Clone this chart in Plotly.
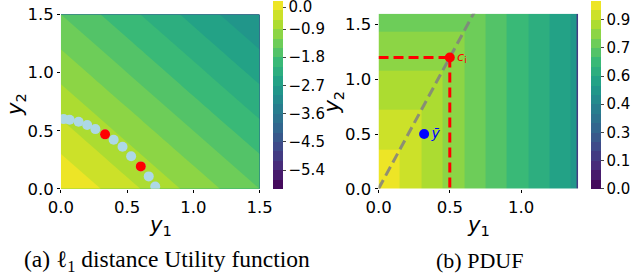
import plotly.graph_objects as go
from plotly.colors import sample_colorscale

# ---------------- data ----------------
# (a) l1 distance utility: grid samples of the utility surface
l1_y1 = [0.0, 0.5, 1.0, 1.5]
l1_y2 = [0.0, 0.5, 1.0, 1.5]
l1_utility = [
    [0.0, -0.5, -1.0, -1.5],
    [-0.5, -1.0, -1.5, -2.0],
    [-1.0, -1.5, -2.0, -2.5],
    [-1.5, -2.0, -2.5, -3.0],
]
front_y1 = [0.02, 0.065, 0.133, 0.198, 0.26, 0.333, 0.398, 0.465, 0.53, 0.603, 0.663, 0.712]
front_y2 = [0.60, 0.595, 0.578, 0.549, 0.514, 0.469, 0.423, 0.362, 0.281, 0.193, 0.107, 0.02]
chosen_y1 = [0.333, 0.603]
chosen_y2 = [0.469, 0.193]
left_cbar_vals = [-0.2, -0.9, -1.8, -2.7, -3.6, -4.5, -5.4]
left_cbar_text = ["0.0", "\u22120.9", "\u22121.8", "\u22122.7", "\u22123.6", "\u22124.5", "\u22125.4"]

# (b) PDUF: band edges and band values
pduf_y1_edges = [0.0, 0.15, 0.30, 0.45, 0.60, 0.75, 0.90, 1.05, 1.20, 1.35, 1.388, 1.40]
pduf_y2_edges = [0.0, 0.36, 0.72, 1.08, 1.44, 1.60]
pduf_band_values = [0.975, 0.925, 0.875, 0.825, 0.775, 0.725, 0.675, 0.625, 0.575, 0.525, 0.175]
ci_y1 = [0.5]
ci_y2 = [1.2]
ybar_y1 = [0.32]
ybar_y2 = [0.5]
diag_y1 = [0.0, 0.70]
diag_y2 = [0.0, 1.68]
right_cbar_vals = [0.0, 0.15, 0.30, 0.45, 0.60, 0.75, 0.90]
right_cbar_text = ["0.0", "0.1", "0.3", "0.4", "0.6", "0.7", "0.9"]

axis_ticks = [0.0, 0.5, 1.0, 1.5]
axis_ticktext = ["0.0", "0.5", "1.0", "1.5"]

# ---------------- figure ----------------
W, H = 640, 278
n_steps = 20
cols = sample_colorscale("Viridis", [(k + 0.5) / n_steps for k in range(n_steps)])
stepped = []
for k, c in enumerate(cols):
    stepped.append([k / n_steps, c])
    stepped.append([(k + 1) / n_steps, c])

pduf_z = [[pduf_band_values[max(i, j)] for i in range(len(pduf_y1_edges) - 1)]
          for j in range(len(pduf_y2_edges) - 1)]

FONT = "DejaVu Sans"


def cbar(xpx, vals, text):
    return dict(x=xpx / W, xanchor="left", y=85 / H, yanchor="bottom",
                len=188, lenmode="pixels", thickness=10, thicknessmode="pixels",
                xpad=0, ypad=0, outlinewidth=0, ticks="outside", ticklen=3,
                tickvals=vals, ticktext=text, ticklabeloverflow="allow",
                tickfont=dict(family=FONT, size=15, color="black"))


fig = go.Figure()

# heatmap underneath the contour: carries the stepped colorbar for panel (a)
fig.add_trace(go.Heatmap(
    x=l1_y1, y=l1_y2, z=l1_utility, colorscale=stepped, zmin=-6, zmax=0,
    colorbar=cbar(271, left_cbar_vals, left_cbar_text),
    xaxis="x", yaxis="y", hoverinfo="skip",
))
fig.add_trace(go.Contour(
    x=l1_y1, y=l1_y2, z=l1_utility,
    colorscale=stepped, zmin=-6, zmax=0, zauto=False, showscale=False,
    contours=dict(start=-6, end=0, size=0.3, coloring="fill", showlines=False),
    line=dict(width=0),
    xaxis="x", yaxis="y", hoverinfo="skip",
))
fig.add_trace(go.Scatter(x=front_y1, y=front_y2, mode="markers",
                         marker=dict(color="#add8e6", size=10),
                         xaxis="x", yaxis="y", showlegend=False, cliponaxis=True))
fig.add_trace(go.Scatter(x=chosen_y1, y=chosen_y2, mode="markers",
                         marker=dict(color="#ff0000", size=10),
                         xaxis="x", yaxis="y", showlegend=False))

fig.add_trace(go.Heatmap(
    x=pduf_y1_edges, y=pduf_y2_edges, z=pduf_z,
    colorscale=stepped, zmin=0, zmax=1,
    colorbar=cbar(602, right_cbar_vals, right_cbar_text),
    xaxis="x2", yaxis="y2", hoverinfo="skip",
))
fig.add_trace(go.Scatter(x=diag_y1, y=diag_y2, mode="lines",
                         line=dict(color="rgba(128,128,128,0.85)", width=3, dash="10px,5px"),
                         xaxis="x2", yaxis="y2", showlegend=False))
fig.add_trace(go.Scatter(x=[0.0, ci_y1[0]], y=[ci_y2[0], ci_y2[0]], mode="lines",
                         line=dict(color="#ff0000", width=3, dash="10px,5px"),
                         xaxis="x2", yaxis="y2", showlegend=False))
fig.add_trace(go.Scatter(x=[ci_y1[0], ci_y1[0]], y=[ci_y2[0], 0.0], mode="lines",
                         line=dict(color="#ff0000", width=3, dash="10px,5px"),
                         xaxis="x2", yaxis="y2", showlegend=False))
fig.add_trace(go.Scatter(x=ci_y1, y=ci_y2, mode="markers+text",
                         marker=dict(color="#ff0000", size=10),
                         text=["<i>c</i><sub>i</sub>"], textposition="middle right",
                         textfont=dict(family=FONT, size=13, color="#ff0000"),
                         xaxis="x2", yaxis="y2", showlegend=False, cliponaxis=False))
fig.add_trace(go.Scatter(x=ybar_y1, y=ybar_y2, mode="markers+text",
                         marker=dict(color="#0000ff", size=10),
                         text=["<i>\u0233</i>"], textposition="middle right",
                         textfont=dict(family=FONT, size=14, color="#0000ff"),
                         xaxis="x2", yaxis="y2", showlegend=False, cliponaxis=False))

axis_common = dict(showgrid=False, zeroline=False, showline=False, ticks="outside",
                   ticklen=3, tickcolor="black",
                   tickfont=dict(family=FONT, size=16.5, color="black"))

fig.update_layout(
    width=W, height=H, autosize=False,
    margin=dict(l=0, r=0, t=0, b=0, pad=0),
    paper_bgcolor="white", plot_bgcolor="white",
    showlegend=False,
    xaxis=dict(domain=[50 / W, 257 / W], range=[0, 1.5], anchor="y",
               tickvals=axis_ticks, ticktext=axis_ticktext, **axis_common),
    yaxis=dict(domain=[85 / H, 272 / H], range=[0, 1.5], anchor="x",
               tickvals=axis_ticks, ticktext=axis_ticktext, **axis_common),
    xaxis2=dict(domain=[381 / W, 589 / W], range=[0, 1.40], anchor="y2",
                tickvals=axis_ticks[:3], ticktext=axis_ticktext[:3], **axis_common),
    yaxis2=dict(domain=[85 / H, 273 / H], range=[0, 1.60], anchor="x2",
                tickvals=axis_ticks, ticktext=axis_ticktext, **axis_common),
)

ttl = dict(family=FONT, size=21, color="black")
annos = [
    dict(x=154 / W, y=1 - 233 / H, text="<i>y</i><sub>1</sub>", font=ttl),
    dict(x=485 / W, y=1 - 233 / H, text="<i>y</i><sub>1</sub>", font=ttl),
    dict(x=3 / W, y=1 - 102 / H, text="<i>y</i><sub>2</sub>", font=ttl, textangle=-90),
    dict(x=334 / W, y=1 - 100 / H, text="<i>y</i><sub>2</sub>", font=ttl, textangle=-90),
    dict(x=161 / W, y=1 - 270 / H, text="(a) \u2113<sub>1</sub> distance Utility function",
         font=dict(family="Liberation Serif", size=23.5, color="black")),
    dict(x=486 / W, y=1 - 270 / H, text="(b) PDUF",
         font=dict(family="Liberation Serif", size=22, color="black")),
]
for a in annos:
    a.update(xref="paper", yref="paper", showarrow=False, xanchor="center", yanchor="middle")
fig.update_layout(annotations=annos)

fig.write_html("out.html", config={"displayModeBar": False},
               post_script="document.body.style.margin='0';document.body.style.overflow='hidden';")
